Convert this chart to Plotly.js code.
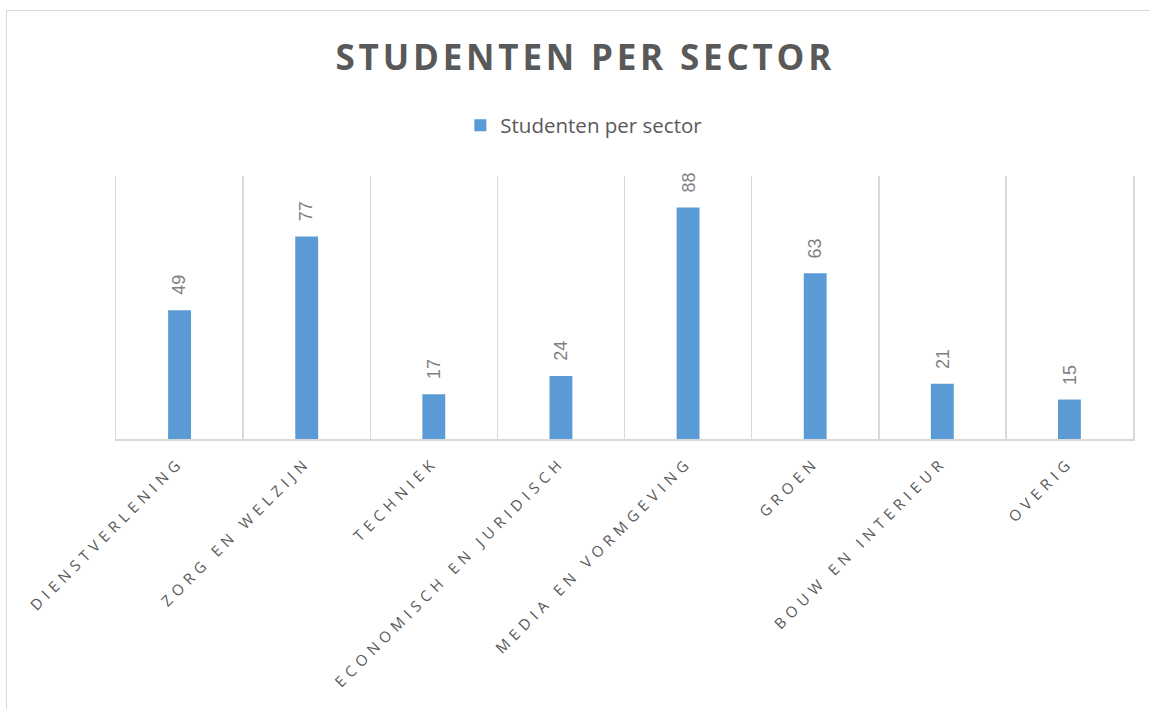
<!DOCTYPE html>
<html>
<head>
<meta charset="utf-8">
<script src="https://cdn.plot.ly/plotly-3.0.1.min.js"></script>
<style>
  html, body { margin: 0; padding: 0; background: #fff; }
  #frame { position: absolute; left: 6px; top: 10px; width: 1300px; height: 900px; border: 1.5px solid #d9d9d9; }
  #chart { position: absolute; left: 0; top: 0; width: 1150px; height: 709px; }
  .xtick text { letter-spacing: 5.2px; }
  .gtitle { letter-spacing: 3.8px; }
</style>
</head>
<body>
<div id="frame"></div>
<div id="chart"></div>
<script>
const categories = ["DIENSTVERLENING", "ZORG EN WELZIJN", "TECHNIEK", "ECONOMISCH EN JURIDISCH", "MEDIA EN VORMGEVING", "GROEN", "BOUW EN INTERIEUR", "OVERIG"];
const values = [49, 77, 17, 24, 88, 63, 21, 15];
const seriesName = "Studenten per sector";
const chartTitle = "STUDENTEN PER SECTOR";

const trace = {
  type: "bar",
  x: categories,
  y: values,
  name: seriesName,
  marker: { color: "#5B9BD5" },
  width: 0.18,
  showlegend: true,
  hoverinfo: "x+y"
};

const annotations = categories.map((c, i) => ({
  x: c,
  y: values[i],
  xref: "x",
  yref: "y",
  text: String(values[i]),
  showarrow: false,
  textangle: -90,
  yanchor: "bottom",
  xanchor: "center",
  yshift: 13,
  font: { family: "Liberation Sans, Arial, sans-serif", size: 18, color: "#7f7f7f" }
}));

const layout = {
  width: 1150,
  height: 709,
  paper_bgcolor: "rgba(0,0,0,0)",
  plot_bgcolor: "rgba(0,0,0,0)",
  margin: { l: 116, r: 17, t: 176, b: 270 },
  title: {
    text: "<b>" + chartTitle + "</b>",
    font: { family: "Open Sans, sans-serif", size: 35, color: "#595959" },
    x: 0.509,
    xanchor: "center",
    y: 0.918,
    yanchor: "middle"
  },
  showlegend: true,
  legend: {
    orientation: "h",
    x: 0.46,
    xanchor: "center",
    y: 1.192,
    yanchor: "middle",
    font: { family: "Open Sans, sans-serif", size: 20.5, color: "#595959" },
    itemwidth: 30
  },
  xaxis: {
    type: "category",
    tickson: "boundaries",
    showgrid: true,
    gridcolor: "#d9d9d9",
    gridwidth: 1.5,
    showline: true,
    linecolor: "#d9d9d9",
    linewidth: 1.5,
    ticks: "",
    tickangle: -45,
    ticklabelstandoff: 7,
    tickfont: { family: "Open Sans, sans-serif", size: 15, color: "#595959" },
    automargin: false
  },
  yaxis: {
    range: [0, 100],
    showgrid: false,
    zeroline: false,
    showticklabels: false,
    ticks: "",
    showline: true,
    mirror: true,
    linecolor: "#d9d9d9",
    linewidth: 1.5,
    fixedrange: true
  },
  annotations: annotations
};

Plotly.newPlot("chart", [trace], layout, { displayModeBar: false, staticPlot: true });
</script>
</body>
</html>
